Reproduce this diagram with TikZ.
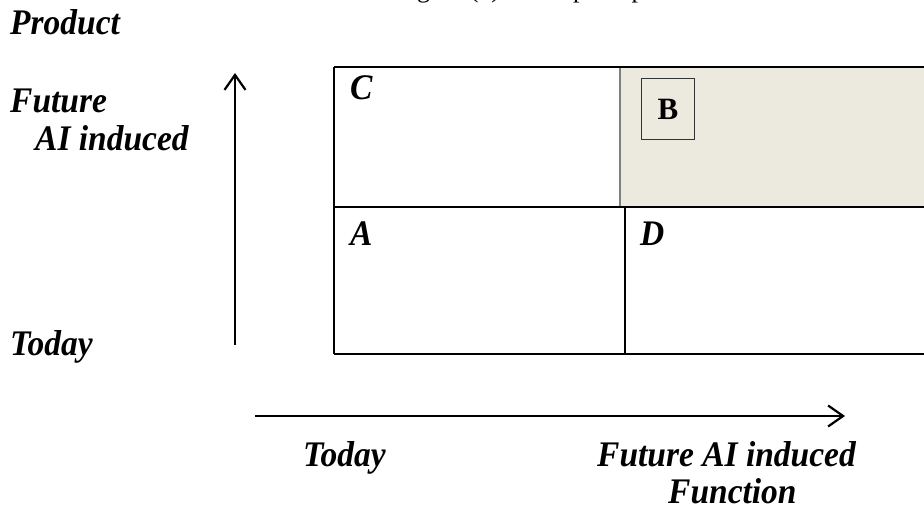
\documentclass[tikz,border=0pt]{standalone}
\usepackage{fontspec}
\setmainfont{Liberation Serif}
\newfontfamily\labelfont[FakeStretch=0.93]{Liberation Serif}
\usetikzlibrary{arrows.meta}
\tikzset{
  lbl/.style={font=\labelfont\bfseries\itshape\fontsize{36}{38}\selectfont, inner sep=0pt, anchor=base west},
  cell/.style={line width=2.5pt, draw=black},
  axis/.style={line width=2.2pt, -{Straight Barb[length=15pt,width=21pt,line width=2.2pt]}},
  boxB/.style={draw=black!80, line width=1.2pt, minimum width=53pt, minimum height=61pt, inner sep=0pt,
    font=\bfseries\fontsize{31}{33}\selectfont}
}
\definecolor{bshade}{HTML}{ECE9DF}
\begin{document}
\begin{tikzpicture}[x=1pt,y=-1pt]
\useasboundingbox (0,0) rectangle (924,510);
% title line, only its descenders fall inside the page
\node[font=\fontsize{26}{28}\selectfont, anchor=base, inner sep=0pt] (title) at (520,-2) {Figure (1) Concept map};
% left axis labels
\node[lbl] (prod) at (10,35) {Product};
\node[lbl] (fut) at (10,113) {Future};
\node[lbl] (ai) at (35,151) {AI induced};
\node[lbl] (today) at (10,356) {Today};
% vertical arrow
\coordinate (v0) at (235,345);
\coordinate (v1) at (235,73);
\draw[axis] (v0) -- (v1);
% shaded quadrant B
\fill[bshade] (620,67) rectangle (924,207);
\draw[line width=1.2pt, draw=black!50] (620,67) -- (620,207);
% grid
\draw[cell] (334,67) -- (924,67);
\draw[cell] (334,207) -- (924,207);
\draw[cell] (334,354) -- (924,354);
\draw[cell] (334,67) -- (334,354);
\draw[cell] (625,207) -- (625,354);
% quadrant letters
\node[lbl] (C) at (350,100) {C};
\node[lbl] (A) at (350,246) {A};
\node[lbl] (D) at (640,246) {D};
\node[boxB] (B) at (668,109) {B};
% horizontal arrow
\coordinate (h0) at (255,416);
\coordinate (h1) at (845,416);
\draw[axis] (h0) -- (h1);
% bottom axis labels
\node[lbl] (today2) at (303,467) {Today};
\node[lbl] (futai) at (597,467) {Future AI induced};
\node[lbl] (func) at (668,503) {Function};
\end{tikzpicture}
\end{document}
